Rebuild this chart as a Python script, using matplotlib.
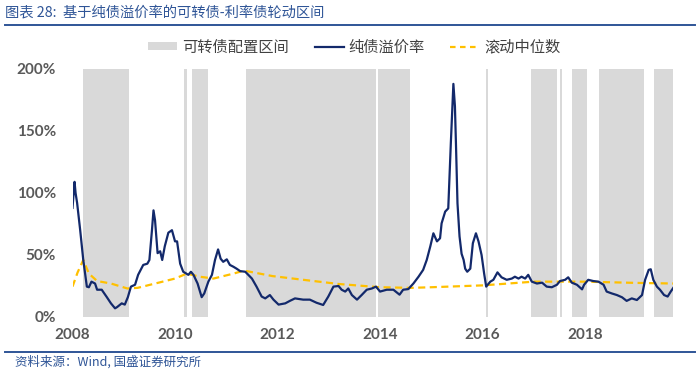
import matplotlib
matplotlib.use("Agg")
import matplotlib.pyplot as plt
from matplotlib.lines import Line2D
from matplotlib.patches import Patch

# ---------------- data ----------------
dates = [2008.00, 2008.04, 2008.06, 2008.09, 2008.15, 2008.21, 2008.28, 2008.32, 2008.37, 2008.44,
         2008.48, 2008.57, 2008.67, 2008.75, 2008.83, 2008.87, 2008.96, 2009.02, 2009.08, 2009.14,
         2009.22, 2009.28, 2009.38, 2009.46, 2009.50, 2009.55, 2009.58, 2009.61, 2009.66, 2009.71,
         2009.75, 2009.80, 2009.87, 2009.94, 2010.00, 2010.04, 2010.10, 2010.16, 2010.26, 2010.31,
         2010.36, 2010.44, 2010.52, 2010.57, 2010.65, 2010.72, 2010.78, 2010.84, 2010.89, 2010.94,
         2011.01, 2011.07, 2011.14, 2011.20, 2011.27, 2011.37, 2011.50, 2011.59, 2011.69, 2011.76,
         2011.85, 2011.92, 2012.02, 2012.15, 2012.24, 2012.34, 2012.50, 2012.63, 2012.76, 2012.89,
         2012.99, 2013.09, 2013.19, 2013.25, 2013.32, 2013.38, 2013.45, 2013.55, 2013.64, 2013.74,
         2013.84, 2013.92, 2014.00, 2014.13, 2014.26, 2014.38, 2014.45, 2014.55, 2014.65, 2014.75,
         2014.84, 2014.91, 2014.98, 2015.04, 2015.11, 2015.17, 2015.20, 2015.27, 2015.33, 2015.38,
         2015.43, 2015.46, 2015.48, 2015.51, 2015.55, 2015.59, 2015.63, 2015.66, 2015.70, 2015.76,
         2015.81, 2015.87, 2015.92, 2015.98, 2016.03, 2016.07, 2016.15, 2016.21, 2016.29, 2016.37,
         2016.47, 2016.57, 2016.63, 2016.70, 2016.76, 2016.83, 2016.89, 2016.96, 2017.06, 2017.16,
         2017.25, 2017.35, 2017.45, 2017.51, 2017.61, 2017.67, 2017.74, 2017.84, 2017.94, 2017.98,
         2018.06, 2018.16, 2018.26, 2018.36, 2018.42, 2018.52, 2018.62, 2018.72, 2018.81, 2018.91,
         2019.01, 2019.11, 2019.17, 2019.24, 2019.28, 2019.33, 2019.40, 2019.46, 2019.54, 2019.61,
         2019.67, 2019.72]
premium = [88, 109, 100, 92, 70, 46, 24.5, 24, 28.5, 27,
           22, 22, 16, 11, 7, 8, 11, 10, 16, 24.5,
           26, 34, 42, 43, 46, 70, 86, 78, 51.5, 53,
           46, 57, 68, 70, 61, 61, 43, 36.5, 34, 36.5,
           34, 27, 16, 19, 28.5, 34, 46, 54.5, 47, 44.5,
           46.5, 42, 40.5, 39, 37, 36.5, 31, 24.5, 16.5, 15,
           17.7, 14, 10, 11, 13, 15, 14, 14, 11.5, 9.7,
           16.5, 24.5, 25, 22, 20.5, 23, 17.7, 14, 17.7, 22,
           23, 24.5, 20.5, 22, 22, 18, 22, 22.5, 27, 32.5,
           38, 46, 57, 67.5, 61, 63.5, 75.5, 85, 87.6, 140,
           188, 170, 140, 91.7, 65, 51, 46, 39, 36.5, 39,
           59.5, 67.5, 61, 50, 35, 24.5, 28.5, 30, 36, 32,
           30, 31, 32.5, 31, 32.5, 31, 34, 28.5, 27, 27.7,
           24.5, 24, 26, 29, 30, 32, 27.7, 26, 22.3, 26,
           30, 29, 28.5, 26, 20.5, 19, 17.7, 15.9, 13, 15,
           13.7, 17.7, 30, 38, 38.5, 30, 24.5, 22, 17.7, 16.5,
           20.5, 23.5]

median_dates = [2008.00, 2008.10, 2008.21, 2008.32, 2008.48, 2008.75, 2009.07, 2009.27, 2009.71,
                2010.00, 2010.23, 2010.48, 2010.75, 2011.14, 2011.31, 2011.40, 2011.90, 2012.50,
                2013.20, 2014.00, 2014.60, 2015.00, 2016.00, 2016.50, 2017.00, 2017.50, 2018.00,
                2018.50, 2019.00, 2019.72]
median = [24.5, 36, 46, 35, 29, 27, 23, 23.5, 28,
          31, 35, 32.5, 31, 35, 37, 37, 33, 30,
          26.6, 24, 23.5, 24, 25.5, 27, 28.5, 28.5, 28.5,
          28, 27.5, 27]

band_start = [2008.20, 2010.18, 2010.33, 2011.39, 2013.96, 2016.06, 2016.95, 2017.51, 2017.75, 2018.27, 2019.35]
band_end   = [2009.10, 2010.24, 2010.64, 2013.92, 2014.59, 2016.10, 2017.46, 2017.55, 2018.03, 2019.15, 2019.72]

year_ticks = [2008, 2010, 2012, 2014, 2016, 2018]
pct_ticks = [0, 50, 100, 150, 200]

title_text = "图表 28:  基于纯债溢价率的可转债-利率债轮动区间"
source_text = "资料来源：Wind, 国盛证券研究所"
legend_labels = ["可转债配置区间", "纯债溢价率", "滚动中位数"]

# ---------------- style ----------------
plt.rcParams['font.family'] = ['Noto Sans CJK SC', 'DejaVu Sans']
NAVY = "#13296B"
YELLOW = "#FFC000"
GRAY = "#D9D9D9"
BLUE = "#2F5597"
TICK = "#595959"

fig = plt.figure(figsize=(7.0, 3.73), dpi=100)
ax = fig.add_axes([72.5 / 700, 56 / 373, (673.3 - 72.5) / 700, 248 / 373])

for s, e in zip(band_start, band_end):
    ax.axvspan(s, e, color=GRAY, lw=0, zorder=1)

ax.plot(median_dates, median, color=YELLOW, lw=1.6, dashes=(3.2, 2.0), zorder=2)
ax.plot(dates, premium, color=NAVY, lw=1.6, zorder=3)

ax.set_xlim(2008.0, 2019.72)
ax.set_ylim(0, 200)
ax.set_xticks(year_ticks)
ax.set_xticklabels([str(y) for y in year_ticks])
ax.set_yticks(pct_ticks)
ax.set_yticklabels([f"{p}%" for p in pct_ticks])
for side in ax.spines.values():
    side.set_visible(False)
ax.tick_params(length=0, colors=TICK)
ax.tick_params(axis='y', pad=12)
ax.tick_params(axis='x', pad=8)
for lab in ax.get_xticklabels() + ax.get_yticklabels():
    lab.set_fontfamily(['Lato', 'DejaVu Sans'])
    lab.set_fontweight('bold')
    lab.set_fontsize(11)
    lab.set_color(TICK)

handles = [Patch(facecolor=GRAY, edgecolor='none'),
           Line2D([], [], color=NAVY, lw=1.6),
           Line2D([], [], color=YELLOW, lw=1.6, dashes=(2.5, 2.0))]
leg = fig.legend(handles, legend_labels, loc='center', bbox_to_anchor=(0.506, 1 - 47 / 373),
                 ncol=3, frameon=False, fontsize=11, handlelength=1.9, handleheight=0.45,
                 handletextpad=0.3, columnspacing=1.7)
for t in leg.get_texts():
    t.set_color("#404040")

fig.text(5 / 700, 1 - 12 / 373, title_text, fontsize=10.3, color=BLUE, va='center', ha='left',
         style='italic')
fig.add_artist(Line2D([5 / 700, 695 / 700], [1 - 25 / 373] * 2, transform=fig.transFigure,
                      color=BLUE, lw=1.4))
fig.add_artist(Line2D([5 / 700, 695 / 700], [1 - 352 / 373] * 2, transform=fig.transFigure,
                      color=BLUE, lw=1.4))
fig.text(15 / 700, 1 - 362 / 373, source_text, fontsize=9, color=BLUE, va='center', ha='left',
         style='italic')

fig.savefig("out.png", dpi=100)
